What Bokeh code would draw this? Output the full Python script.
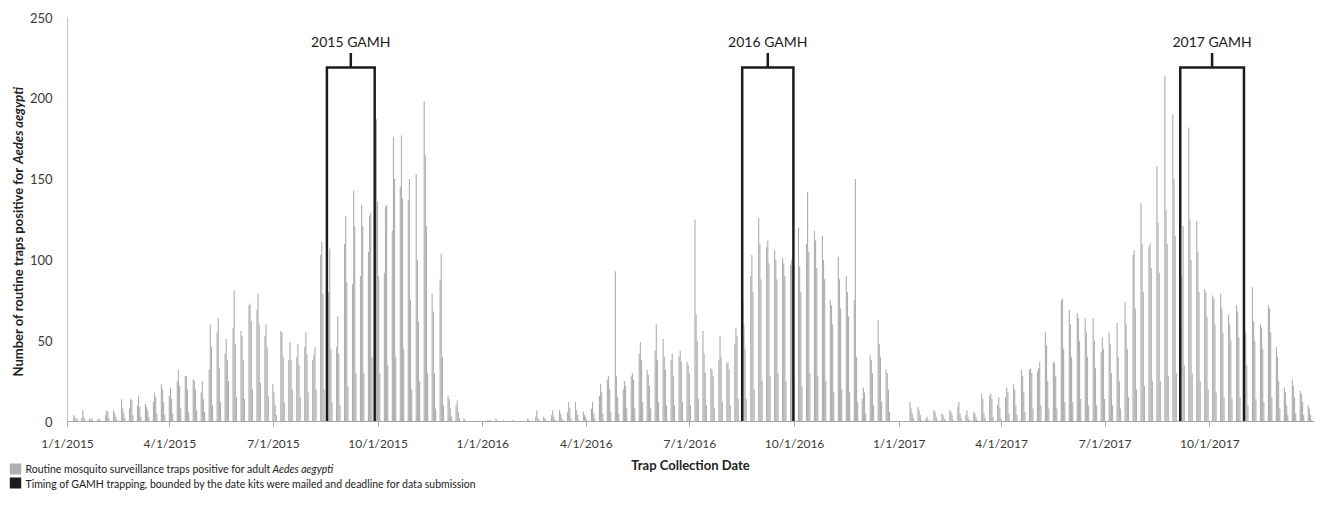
import math
import pandas as pd
from bokeh.plotting import figure
from bokeh.layouts import column, row
from bokeh.models import Range1d, FixedTicker, ColumnDataSource
from bokeh.core.properties import value
from bokeh.embed import file_html
from bokeh.resources import INLINE

# ---------------- data ----------------
origin_date = "2015-01-01"
end_date = "2017-12-31"

# weekly clusters of daily counts (Tue..Fri of each week starting on the given Monday)
week_start_2015 = "2015-01-05"
traps_2015 = [
    [4, 3, 1, 2], [2, 7, 3, 1], [2, 1, 2, 0], [1, 2, 1, 0], [4, 7, 6, 2],
    [7, 5, 3, 1], [14, 8, 5, 2], [8, 14, 13, 4], [10, 16, 9, 3], [11, 9, 7, 3],
    [12, 18, 15, 5], [23, 20, 12, 4], [16, 21, 14, 5], [25, 32, 22, 8], [28, 28, 20, 6],
    [26, 25, 20, 7], [18, 25, 14, 6], [32, 60, 46, 10], [55, 64, 33, 12], [42, 51, 38, 25],
    [58, 81, 48, 15], [56, 53, 38, 14], [72, 73, 62, 20], [69, 79, 60, 24], [53, 60, 46, 16],
    [23, 18, 10, 4], [56, 55, 40, 12], [38, 49, 38, 20], [40, 48, 35, 15], [46, 55, 42, 18],
    [38, 41, 46, 20], [103, 111, 79, 20], [80, 107, 45, 12], [46, 65, 42, 10], [110, 127, 86, 22],
    [85, 143, 121, 30], [90, 134, 121, 30], [105, 127, 129, 40], [187, 136, 90, 30], [92, 133, 134, 35],
    [118, 176, 150, 40], [145, 177, 138, 45], [137, 150, 75, 20], [153, 100, 62, 25], [198, 165, 121, 30],
    [79, 68, 30, 8], [88, 104, 40, 10], [16, 14, 8, 3], [10, 13, 6, 2], [2, 1, 0, 0],
    [0, 0, 0, 0], [0, 0, 0, 0],
]

week_start_2016 = "2016-01-04"
traps_2016 = [
    [1, 0, 1, 0], [2, 1, 0, 0], [1, 0, 0, 0], [0, 1, 0, 0], [0, 0, 0, 0],
    [2, 1, 0, 0], [3, 7, 2, 1], [3, 2, 1, 0], [4, 7, 3, 1], [7, 5, 2, 1],
    [6, 12, 8, 2], [12, 7, 4, 1], [6, 4, 3, 1], [8, 12, 5, 2], [16, 23, 18, 5],
    [26, 28, 20, 6], [93, 28, 15, 5], [20, 25, 22, 8], [28, 30, 26, 8], [42, 49, 38, 12],
    [32, 29, 22, 8], [44, 60, 38, 12], [51, 40, 32, 10], [38, 42, 28, 10], [40, 44, 37, 12],
    [37, 35, 30, 10], [125, 66, 50, 14], [56, 42, 30, 10], [33, 32, 28, 8], [38, 53, 40, 12],
    [36, 37, 32, 10], [48, 58, 53, 14], [75, 60, 45, 14], [90, 103, 80, 20], [126, 110, 88, 25],
    [108, 112, 98, 28], [106, 100, 88, 30], [101, 98, 90, 25], [97, 100, 88, 25], [120, 96, 80, 22],
    [110, 142, 105, 30], [118, 112, 95, 28], [115, 100, 88, 25], [75, 72, 60, 18], [102, 88, 70, 20],
    [90, 80, 65, 18], [75, 150, 40, 12], [14, 21, 18, 5], [41, 38, 30, 10], [63, 48, 40, 12],
    [32, 30, 20, 6], [0, 0, 0, 0],
]

week_start_2017 = "2017-01-02"
traps_2017 = [
    [0, 0, 0, 0], [12, 8, 5, 2], [9, 7, 4, 1], [2, 3, 1, 0], [7, 6, 3, 1],
    [5, 4, 2, 1], [7, 6, 4, 1], [9, 12, 5, 2], [4, 7, 3, 1], [6, 5, 3, 1],
    [17, 14, 5, 2], [16, 17, 14, 3], [10, 15, 8, 2], [15, 21, 18, 5], [23, 20, 10, 4],
    [32, 28, 18, 6], [32, 33, 30, 8], [31, 33, 37, 10], [55, 47, 25, 8], [37, 36, 28, 8],
    [75, 76, 45, 12], [69, 60, 40, 12], [67, 64, 50, 14], [64, 55, 40, 10], [64, 50, 33, 10],
    [43, 52, 45, 14], [55, 48, 30, 10], [61, 40, 25, 8], [74, 60, 45, 15], [103, 106, 70, 20],
    [135, 110, 80, 22], [108, 110, 95, 25], [158, 123, 92, 25], [214, 131, 110, 28], [190, 150, 115, 30],
    [60, 90, 121, 35], [182, 125, 100, 30], [124, 105, 80, 25], [82, 80, 65, 20], [78, 76, 60, 18],
    [79, 70, 55, 15], [66, 60, 50, 14], [72, 68, 52, 15], [61, 55, 35, 10], [83, 62, 50, 14],
    [60, 58, 45, 12], [72, 70, 55, 15], [46, 40, 25, 8], [21, 18, 10, 4], [26, 22, 15, 5],
    [19, 17, 12, 4], [10, 8, 4, 1],
]

gamh_labels = ["2015 GAMH", "2016 GAMH", "2017 GAMH"]
gamh_start = ["2015-08-17", "2016-08-16", "2017-09-05"]
gamh_end = ["2015-09-28", "2016-09-30", "2017-10-31"]

tick_dates = ["2015-01-01", "2015-04-01", "2015-07-01", "2015-10-01",
              "2016-01-01", "2016-04-01", "2016-07-01", "2016-10-01",
              "2017-01-01", "2017-04-01", "2017-07-01", "2017-10-01"]
tick_labels = ["1/1/2015", "4/1/2015", "7/1/2015", "10/1/2015",
               "1/1/2016", "4/1/2016", "7/1/2016", "10/1/2016",
               "1/1/2017", "4/1/2017", "7/1/2017", "10/1/2017"]

y_ticks = [0, 50, 100, 150, 200, 250]

# ---------------- helpers ----------------
ORIGIN = pd.Timestamp(origin_date)


def day_index(s):
    return (pd.Timestamp(s) - ORIGIN).days


xs, tops = [], []
for start, weeks in ((week_start_2015, traps_2015),
                     (week_start_2016, traps_2016),
                     (week_start_2017, traps_2017)):
    base = day_index(start)
    for k, wk in enumerate(weeks):
        for j, v in enumerate(wk):
            if v > 0:
                xs.append(base + 7 * k + 1 + j + 0.5)
                tops.append(v)

BAR = "#b0b0b0"
DARK = "#1c1c1c"
TXT = "#3a3a3a"
FONT = "Lato"

MAIN_H = 453
LEFT_W = 26

# ---------------- main chart ----------------
x_end = day_index(end_date) + 1
p = figure(width=1294, height=MAIN_H, x_range=Range1d(0, x_end), y_range=Range1d(0, 250),
           toolbar_location=None, output_backend="svg",
           min_border_left=40, min_border_right=6, min_border_top=17, min_border_bottom=30)
p.outline_line_color = None
p.grid.visible = False
p.background_fill_color = "white"
p.border_fill_color = "white"

src = ColumnDataSource(dict(x=xs, top=tops))
p.vbar(x="x", top="top", width=1.0, bottom=0, source=src,
       fill_color=BAR, line_color=None)

# GAMH brackets
BR_TOP = 219
BR_TICK = 228
bx, by = [], []
cx = []
for s, e in zip(gamh_start, gamh_end):
    a, b = day_index(s), day_index(e)
    bx.append([a, a, b, b])
    by.append([0, BR_TOP, BR_TOP, 0])
    m = (a + b) / 2
    bx.append([m, m])
    by.append([BR_TOP, BR_TICK])
    cx.append(m)
p.multi_line(xs=bx, ys=by, line_color=DARK, line_width=2.5, line_join="miter")
p.text(x=cx, y=[235] * len(cx), text=gamh_labels, text_align="center",
       text_baseline="middle", text_font=value(FONT), text_font_size="14px",
       text_color=DARK)

tick_days = [day_index(d) for d in tick_dates]
xa = p.xaxis[0]
xa.ticker = FixedTicker(ticks=tick_days)
xa.major_label_overrides = {d: lab for d, lab in zip(tick_days, tick_labels)}
xa.minor_tick_line_color = None
xa.major_tick_out = 5
xa.major_tick_in = 0
xa.axis_line_color = "#a8a8a8"
xa.major_tick_line_color = "#a8a8a8"
xa.major_label_standoff = 9
xa.major_label_text_font = FONT
xa.major_label_text_font_size = "12px"
xa.major_label_text_color = TXT

ya = p.yaxis[0]
ya.ticker = FixedTicker(ticks=y_ticks)
ya.minor_tick_line_color = None
ya.major_tick_line_color = None
ya.major_tick_out = 0
ya.major_tick_in = 0
ya.axis_line_color = "#c4c4c4"
ya.major_label_standoff = 15
ya.major_label_text_font = FONT
ya.major_label_text_font_size = "13px"
ya.major_label_text_color = TXT

# ---------------- y-axis title panel ----------------
pa = figure(width=LEFT_W, height=MAIN_H, x_range=Range1d(0, LEFT_W), y_range=Range1d(0, MAIN_H),
            toolbar_location=None, output_backend="svg", min_border=0,
            x_axis_location=None, y_axis_location=None)
pa.outline_line_color = None
pa.grid.visible = False
J = MAIN_H - 165
pa.text(x=[17], y=[J - 3], text=["Number of routine traps positive for"], angle=math.pi / 2,
        text_align="right", text_baseline="middle", text_font=value(FONT),
        text_font_size="13px", text_font_style="bold", text_color="#222222")
pa.text(x=[17], y=[J + 1], text=["Aedes aegypti"], angle=math.pi / 2,
        text_align="left", text_baseline="middle", text_font=value(FONT),
        text_font_size="13px", text_font_style="bold italic", text_color="#222222")

# ---------------- legend / x title panel ----------------
pb = figure(width=LEFT_W + 1294, height=45, x_range=Range1d(0, LEFT_W + 1294), y_range=Range1d(0, 45),
            toolbar_location=None, output_backend="svg", min_border=0,
            x_axis_location=None, y_axis_location=None)
pb.outline_line_color = None
pb.grid.visible = False
pb.quad(left=[9.3], right=[20.7], bottom=[24], top=[35], fill_color=BAR, line_color=None)
pb.quad(left=[9.3], right=[20.7], bottom=[10], top=[21], fill_color=DARK, line_color=None)
pb.text(x=[25], y=[30], text=["Routine mosquito surveillance traps positive for adult"],
        text_align="left", text_baseline="middle", text_font=value(FONT),
        text_font_size="10.5px", text_color="#222222")
pb.text(x=[272], y=[30], text=["Aedes aegypti"],
        text_align="left", text_baseline="middle", text_font=value(FONT),
        text_font_size="10.5px", text_font_style="italic", text_color="#222222")
pb.text(x=[25], y=[15],
        text=["Timing of GAMH  trapping, bounded by the  date kits were mailed and deadline for data submission"],
        text_align="left", text_baseline="middle", text_font=value(FONT),
        text_font_size="10.5px", text_color="#222222")
pb.text(x=[690], y=[34], text=["Trap Collection Date"], text_align="center",
        text_baseline="middle", text_font=value(FONT), text_font_size="13px",
        text_font_style="bold", text_color="#222222")

layout = column(row(pa, p, spacing=0), pb, spacing=0)
open("out.html", "w").write(file_html(layout, INLINE))
